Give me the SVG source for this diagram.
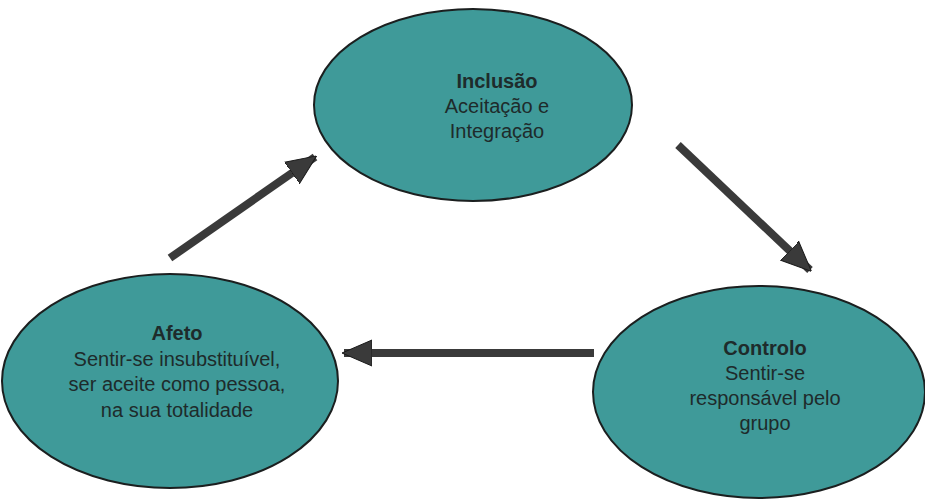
<svg xmlns="http://www.w3.org/2000/svg" width="925" height="499" viewBox="0 0 925 499">
<style>
.node ellipse{fill:#3f9a99;stroke:#1b1f1f;stroke-width:2}
.t{font-family:"Liberation Sans","DejaVu Sans",sans-serif;font-size:20px;fill:#1e2b2b;text-anchor:middle}
.b{font-weight:bold}
.conn line{stroke:#3a3a3a;stroke-width:8}
</style>
<defs>
<marker id="ah" markerUnits="userSpaceOnUse" markerWidth="30" markerHeight="30" viewBox="0 0 30 30" refX="28" refY="15" orient="auto">
<path d="M0,2 L30,15 L0,28 Z" fill="#3a3a3a" stroke="#1a1a1a" stroke-width="1"/>
</marker>
</defs>
<rect width="925" height="499" fill="#ffffff"/>
<g class="conn">
<line x1="170" y1="258" x2="315" y2="157" marker-end="url(#ah)"/>
<line x1="678" y1="145" x2="810" y2="270" marker-end="url(#ah)"/>
<line x1="594" y1="353" x2="344" y2="353" marker-end="url(#ah)"/>
</g>
<g id="inclusao" class="node">
<ellipse cx="473" cy="105" rx="159" ry="96"/>
<text class="t b" x="497" y="88">Inclusão</text>
<text class="t" x="497" y="113">Aceitação e</text>
<text class="t" x="497" y="138">Integração</text>
</g>
<g id="afeto" class="node">
<ellipse cx="170" cy="381" rx="168" ry="107"/>
<text class="t b" x="177" y="340">Afeto</text>
<text class="t" x="177" y="366">Sentir-se insubstituível,</text>
<text class="t" x="177" y="391">ser aceite como pessoa,</text>
<text class="t" x="177" y="417">na sua totalidade</text>
</g>
<g id="controlo" class="node">
<ellipse cx="759" cy="392" rx="166" ry="106"/>
<text class="t b" x="765" y="355">Controlo</text>
<text class="t" x="765" y="380">Sentir-se</text>
<text class="t" x="765" y="405">responsável pelo</text>
<text class="t" x="765" y="430">grupo</text>
</g>
</svg>
